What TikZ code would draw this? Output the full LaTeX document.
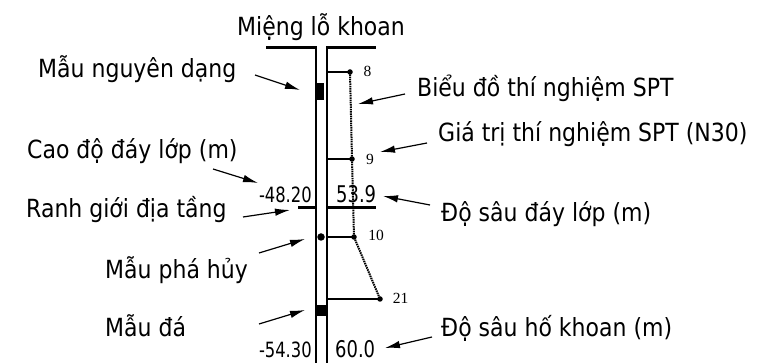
\documentclass[tikz,border=0pt]{standalone}
\usepackage{fontspec}
\setmainfont[FakeStretch=0.88]{DejaVu Sans}
\newfontfamily\numfont[FakeStretch=0.78]{DejaVu Sans}
\newfontfamily\sptfont{Liberation Serif}
\usetikzlibrary{arrows.meta}
\begin{document}
\begin{tikzpicture}[x=1pt,y=-1pt,
  lbl/.style={anchor=base west, inner sep=0pt, font=\fontsize{25}{27}\selectfont},
  bignum/.style={anchor=base, inner sep=0pt, font=\numfont\fontsize{23}{25}\selectfont},
  smallnum/.style={anchor=base, inner sep=0pt, font=\numfont\fontsize{21}{23}\selectfont},
  sptlbl/.style={inner sep=0pt, font=\sptfont\fontsize{15.5}{17}\selectfont},
  ptr/.style={-{Latex[length=15pt,width=7.5pt]}, line width=1.2pt},
  thinwall/.style={line width=1.3pt},
  thickwall/.style={line width=2pt},
  capline/.style={line width=3pt},
  sptdot/.style={circle, fill, inner sep=0pt, minimum size=5.5pt},
  sptline/.style={line width=1.3pt},
  sptgraph/.style={line width=2pt, dash pattern=on 1.5pt off 0.8pt},
]
\useasboundingbox (0,0) rectangle (766,363);

% borehole walls
\coordinate (lwtop) at (316,48);
\coordinate (lwbot) at (316,363);
\coordinate (rwtop) at (327,48);
\coordinate (rwbot) at (327,363);
\draw[thinwall] (lwtop) -- (lwbot);
\draw[thickwall] (rwtop) -- (rwbot);

% top caps
\coordinate (capl) at (266,48);
\coordinate (capr) at (376,48);
\coordinate (capli) at (316.7,48);
\coordinate (capri) at (326,48);
\draw[capline] (capl) -- (capli);
\draw[capline] (capri) -- (capr);

% layer boundary
\coordinate (bl) at (298,208);
\coordinate (bli) at (317,208);
\coordinate (bri) at (326,208);
\coordinate (br) at (376,208);
\draw[capline] (bl) -- (bli);
\draw[capline] (bri) -- (br);

% samples
\fill (317,83) rectangle (324,100);
\fill (316.5,305) rectangle (327,316);
\node[circle, fill, inner sep=0pt, minimum size=7.5pt] (pha) at (321,237) {};

% SPT
\node[sptdot] (d8) at (350,72) {};
\node[sptdot] (d9) at (352,159) {};
\node[sptdot] (d10) at (354,237) {};
\node[sptdot] (d21) at (380,299) {};
\coordinate (w8) at (327,72);
\coordinate (w9) at (327,159);
\coordinate (w10) at (327,237);
\coordinate (w21) at (327,299);
\draw[sptline] (w8) -- (d8.center);
\draw[sptline] (w9) -- (d9.center);
\draw[sptline] (w10) -- (d10.center);
\draw[sptline] (w21) -- (d21.center);
\draw[sptgraph] (d8.center) -- (d9.center) -- (d10.center) -- (d21.center);
\node[sptlbl] (n8) at (367.5,71) {8};
\node[sptlbl] (n9) at (370,159) {9};
\node[sptlbl] (n10) at (376,235) {10};
\node[sptlbl] (n21) at (400.5,298.5) {21};

% numbers
\node[smallnum, anchor=base east] (e1) at (312,203) {-48.20};
\node[bignum, anchor=base west] (h1) at (336,203) {53.9};
\node[smallnum, anchor=base east] (e2) at (312,358) {-54.30};
\node[bignum, anchor=base west] (h2) at (335,358) {60.0};

% labels
\node[lbl] (mieng) at (237,36) {Miệng lỗ khoan};
\node[lbl] (mnd) at (38,78) {Mẫu nguyên dạng};
\node[lbl] (bieu) at (417,97) {Biểu đồ thí nghiệm SPT};
\node[lbl] (gia) at (438,142) {Giá trị thí nghiệm SPT (N30)};
\node[lbl] (cao) at (27,159) {Cao độ đáy lớp (m)};
\node[lbl] (ranh) at (26,218) {Ranh giới địa tầng};
\node[lbl] (dosau) at (441,222) {Độ sâu đáy lớp (m)};
\node[lbl] (mph) at (105,279) {Mẫu phá hủy};
\node[lbl] (mda) at (105,337) {Mẫu đá};
\node[lbl] (hokhoan) at (441,337) {Độ sâu hố khoan (m)};

% arrows
\coordinate (t1) at (255,75);   \coordinate (p1) at (300,90);
\coordinate (t2) at (405,94);   \coordinate (p2) at (358,104);
\coordinate (t3) at (427,143);  \coordinate (p3) at (380,152);
\coordinate (t4) at (213,169);  \coordinate (p4) at (258,183);
\coordinate (t5) at (430,205);  \coordinate (p5) at (383,196);
\coordinate (t6) at (243,217);  \coordinate (p6) at (290,210);
\coordinate (t7) at (259,253);  \coordinate (p7) at (305,239);
\coordinate (t8) at (259,324);  \coordinate (p8) at (305,310);
\coordinate (t9) at (432,337);  \coordinate (p9) at (385,348);
\foreach \i in {1,...,9} \draw[ptr] (t\i) -- (p\i);
\end{tikzpicture}
\end{document}
